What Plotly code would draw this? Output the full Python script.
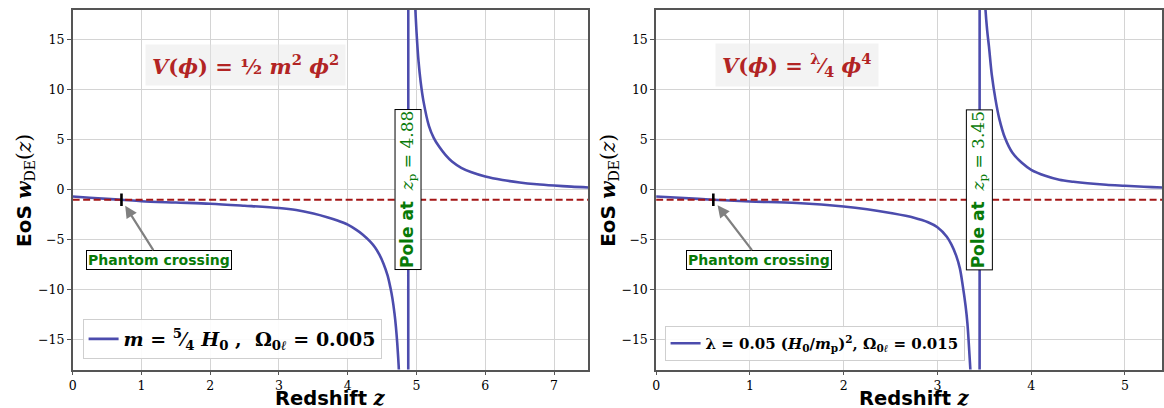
import plotly.graph_objects as go

# ---------------- data ----------------
# Quadratic potential V = 1/2 m^2 phi^2, pole at z_p = 4.88
Z_QUAD = [0.0, 0.25, 0.5, 0.71, 1.0, 1.5, 2.0, 2.5, 3.0, 3.25, 3.5, 3.7, 3.85, 4.0,
          4.12, 4.22, 4.32, 4.40, 4.46, 4.52, 4.58, 4.62, 4.65, 4.68, 4.70, 4.72,
          4.74, 4.76, 4.80, 4.84, 4.86, 4.878,
          4.882, 4.90, 4.93, 4.96, 4.98, 5.0, 5.03, 5.06, 5.10, 5.18, 5.25, 5.33,
          5.42, 5.52, 5.65, 5.8, 6.0, 6.25, 6.5, 6.75, 7.0, 7.25, 7.5]
W_QUAD = [-0.67, -0.80, -0.91, -1.0, -1.15, -1.28, -1.40, -1.60, -1.83, -2.03, -2.38,
          -2.75, -3.08, -3.5, -4.0, -4.5, -5.15, -5.8, -6.5, -7.4, -8.6, -9.8, -10.9,
          -12.4, -13.7, -15.4, -17.6, -20.5, -28.0, -48.0, -90.0, -400.0,
          400.0, 95.0, 38.0, 22.0, 18.5, 15.8, 12.8, 10.8, 8.9, 6.4, 5.2, 4.3,
          3.5, 2.8, 2.2, 1.75, 1.33, 0.98, 0.73, 0.55, 0.42, 0.31, 0.23]

# Quartic potential V = lambda/4 phi^4, pole at z_p = 3.45
Z_QUART = [0.0, 0.25, 0.61, 1.0, 1.5, 2.0, 2.25, 2.5, 2.75, 2.9, 3.0, 3.1, 3.15, 3.2,
           3.24, 3.27, 3.30, 3.32, 3.35, 3.37, 3.40, 3.43, 3.448,
           3.452, 3.47, 3.49, 3.51, 3.53, 3.55, 3.58, 3.62, 3.66, 3.72, 3.8, 3.9,
           4.0, 4.15, 4.3, 4.45, 4.6, 4.8, 5.0, 5.2, 5.4, 5.5]
W_QUART = [-0.67, -0.80, -1.0, -1.17, -1.33, -1.67, -1.95, -2.33, -2.8, -3.25, -3.75,
           -4.7, -5.5, -6.6, -7.9, -9.6, -11.6, -13.4, -17.8, -21.0, -32.0, -80.0, -400.0,
           400.0, 80.0, 30.0, 18.5, 16.0, 14.3, 11.5, 9.0, 7.1, 5.2, 3.7, 2.7,
           2.0, 1.4, 1.0, 0.8, 0.65, 0.5, 0.4, 0.3, 0.23, 0.2]

POLE_QUAD = 4.88
POLE_QUART = 3.45
CROSS_QUAD = 0.71
CROSS_QUART = 0.61
W_LAMBDA = -1.0

X_TICKS_QUAD = [0, 1, 2, 3, 4, 5, 6, 7]
X_TICKS_QUART = [0, 1, 2, 3, 4, 5]
Y_TICKS = [-15, -10, -5, 0, 5, 10, 15]

LEGEND_QUAD = ("<b><i>m</i> = <sup>5</sup>\u2044<sub>4</sub> <i>H</i><sub>0</sub> ,\u00a0\u00a0"
               "\u03a9<sub>0<i>\u2113</i></sub> = 0.005</b>")
LEGEND_QUART = ("<b>\u03bb = 0.05 (<i>H</i><sub>0</sub>/<i>m</i><sub>p</sub>)<sup>2</sup>,\u00a0"
                "\u03a9<sub>0<i>\u2113</i></sub> = 0.015</b>")
TITLE_QUAD = "<b><i>V</i>(<i>\u03d5</i>) = \u00bd <i>m</i><sup>2</sup> <i>\u03d5</i><sup>2</sup></b>"
TITLE_QUART = "<b><i>V</i>(<i>\u03d5</i>) = <sup>\u03bb</sup>\u2044<sub>4</sub> <i>\u03d5</i><sup>4</sup></b>"

# ---------------- styling ----------------
CURVE = "rgb(76,76,173)"
DASH = "#a41616"
GREEN = "#087a08"
TITLE_RED = "#b22424"
SERIF = "DejaVu Serif"
SANS = "DejaVu Sans"

W, H = 1164, 408
def px(x):
    return x / W
def py(y):
    return 1 - y / H

fig = go.Figure()

panels = [
    dict(xa="x", ya="y", z=Z_QUAD, w=W_QUAD, pole=POLE_QUAD, cross=CROSS_QUAD,
         legend="legend", name=LEGEND_QUAD, title=TITLE_QUAD, tz=2.51, txt_c=1.26),
    dict(xa="x2", ya="y2", z=Z_QUART, w=W_QUART, pole=POLE_QUART, cross=CROSS_QUART,
         legend="legend2", name=LEGEND_QUART, title=TITLE_QUART, tz=1.50, txt_c=1.10),
]

for p in panels:
    fig.add_trace(go.Scatter(x=p["z"], y=p["w"], mode="lines", xaxis=p["xa"], yaxis=p["ya"],
                             line=dict(color=CURVE, width=2.6, shape="spline", smoothing=0.9),
                             name=p["name"], legend=p["legend"], showlegend=True,
                             hoverinfo="skip"))
    # Lambda line w = -1
    zmax = max(p["z"])
    fig.add_trace(go.Scatter(x=[0, zmax], y=[W_LAMBDA, W_LAMBDA], mode="lines",
                             xaxis=p["xa"], yaxis=p["ya"], showlegend=False,
                             line=dict(color=DASH, width=1.8, dash="7px,3.5px"),
                             hoverinfo="skip"))
    # phantom crossing marker
    fig.add_trace(go.Scatter(x=[p["cross"]], y=[W_LAMBDA], mode="markers",
                             xaxis=p["xa"], yaxis=p["ya"], showlegend=False,
                             marker=dict(symbol="line-ns-open", size=9, color="black",
                                         line=dict(color="black", width=2.6)),
                             hoverinfo="skip"))
    # Phantom crossing annotation with arrow
    fig.add_annotation(x=p["cross"], y=W_LAMBDA, xref=p["xa"], yref=p["ya"],
                       ax=p["txt_c"], ay=-7.0, axref=p["xa"], ayref=p["ya"],
                       text="<b>Phantom crossing</b>", showarrow=True,
                       arrowhead=2, arrowsize=1.1, arrowwidth=2.2, arrowcolor="#808080",
                       standoff=7,
                       font=dict(family=SANS, size=14, color=GREEN),
                       bgcolor="white", bordercolor="black", borderwidth=1, borderpad=1)
    # Pole annotation (vertical)
    fig.add_annotation(x=p["pole"], y=0, xref=p["xa"], yref=p["ya"], showarrow=False,
                       textangle=-90,
                       text=("<b>Pole at</b>\u00a0\u00a0<span style='font-family:DejaVu Serif'>"
                             f"<i>z</i><sub>p</sub> = {p['pole']:.2f}</span>"),
                       font=dict(family=SANS, size=17, color=GREEN),
                       bgcolor="white", bordercolor="black", borderwidth=1, borderpad=1)
    # Potential title box
    fig.add_annotation(x=p["tz"], y=12.5, xref=p["xa"], yref=p["ya"], showarrow=False,
                       text=p["title"],
                       font=dict(family=SERIF, size=21, color=TITLE_RED),
                       bgcolor="rgba(228,228,228,0.45)", borderpad=6)

axis_common = dict(showgrid=True, gridcolor="#d4d4d4", gridwidth=1, zeroline=False,
                   showline=True, linecolor="#555555", linewidth=1.6, mirror=True,
                   ticks="outside", ticklen=4, tickcolor="#555555", tickwidth=1,
                   tickfont=dict(family="DejaVu Serif", size=12.5, color="black"))

fig.update_layout(
    width=W, height=H, margin=dict(l=0, r=0, t=0, b=0),
    paper_bgcolor="white", plot_bgcolor="white",
    xaxis=dict(domain=[px(69), px(587.5)], range=[0, 7.5], tickvals=X_TICKS_QUAD,
               anchor="y", **axis_common),
    yaxis=dict(domain=[py(369.5), py(10)], range=[-18, 18], tickvals=Y_TICKS,
               anchor="x", **axis_common),
    xaxis2=dict(domain=[px(655.5), 1.0], range=[0, 5.395], tickvals=X_TICKS_QUART,
                anchor="y2", **axis_common),
    yaxis2=dict(domain=[py(369.5), py(10)], range=[-18, 18], tickvals=Y_TICKS,
                anchor="x2", **axis_common),
    legend=dict(x=px(79), y=py(359), xanchor="left", yanchor="bottom",
                bgcolor="rgba(255,255,255,0.9)", bordercolor="#cfcfcf", borderwidth=1,
                font=dict(family=SERIF, size=19, color="black")),
    legend2=dict(x=px(664), y=py(361), xanchor="left", yanchor="bottom",
                 bgcolor="rgba(255,255,255,0.9)", bordercolor="#cfcfcf", borderwidth=1,
                 font=dict(family=SERIF, size=15, color="black")),
)

# axis titles
ytitle = ("<b>EoS</b> <span style='font-family:DejaVu Serif'><b><i>w</i></b>"
          "<sub>DE</sub>(<i>z</i>)</span>")
xtitle = "<b>Redshift</b> <span style='font-family:DejaVu Serif'><b><i>z</i></b></span>"
for xc in (21, 608):
    fig.add_annotation(x=px(xc), y=py(190), xref="paper", yref="paper", text=ytitle,
                       textangle=-90, showarrow=False, xanchor="center", yanchor="middle",
                       font=dict(family=SANS, size=20, color="black"))
for xc in (328, 915):
    fig.add_annotation(x=px(xc), y=py(398), xref="paper", yref="paper", text=xtitle,
                       showarrow=False, xanchor="center", yanchor="middle",
                       font=dict(family=SANS, size=19.5, color="black"))

fig.write_html("out.html")
